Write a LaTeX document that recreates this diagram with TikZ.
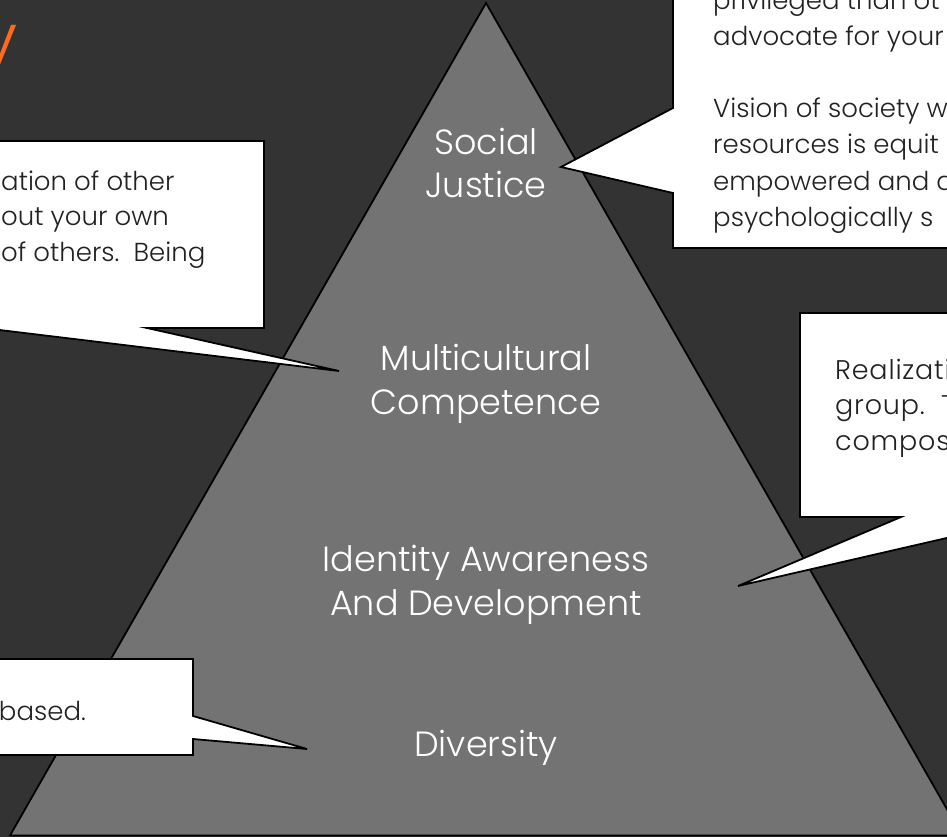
\documentclass[tikz,border=0pt]{standalone}
\usepackage{fontspec}
\IfFontExistsTF{Poppins Light}{\setmainfont{Poppins Light}}{\setmainfont{Poppins}}
\definecolor{bgdark}{HTML}{333333}
\definecolor{pyrgray}{HTML}{737373}
\definecolor{boxink}{HTML}{222222}
\definecolor{titleorange}{HTML}{FF6A1F}

\begin{document}
\begin{tikzpicture}[x=1pt,y=-1pt,
  outline/.style={draw=black, line width=1.8pt, line join=miter},
  bubble/.style={outline, fill=white},
  level/.style={text=white, font=\fontsize{35}{44}\selectfont, inner sep=0pt, anchor=base},
  note/.style={text=boxink, font=\fontsize{26}{36}\selectfont, inner sep=0pt, anchor=base west},
  widenote/.style={note, font=\fontsize{27}{36}\selectfont\addfontfeature{LetterSpace=3}},
  noteend/.style={note, anchor=base east}]
\useasboundingbox (0,0) rectangle (947,837);
\clip (0,0) rectangle (947,837);
\fill[bgdark] (0,0) rectangle (947,837);

% title fragment
\node[text=titleorange, font=\fontsize{70}{80}\selectfont, inner sep=0pt, anchor=base east] (title) at (18,64) {y};

% pyramid
\draw[outline, fill=pyrgray] (486,3) -- (962,835.5) -- (10,835.5) -- cycle;

% callout: multicultural competence
\draw[bubble] (-300,141) -- (264,141) -- (264,328) -- (147,328) -- (339,371) -- (-17,328) -- (-300,328) -- cycle;
% callout: social justice
\draw[bubble] (673,-100) -- (1100,-100) -- (1100,248) -- (673,248) -- (673,193) -- (561,167) -- (673,108) -- cycle;
% callout: identity awareness
\draw[bubble] (800,313) -- (1100,313) -- (1100,517) -- (1038,517) -- (738,586) -- (901,517) -- (800,517) -- cycle;
% callout: diversity
\draw[bubble] (-300,659) -- (193,659) -- (193,716) -- (307,749) -- (193,739) -- (193,755) -- (-300,755) -- cycle;

% pyramid levels
\node[level] (sj1) at (486,154.5) {Social};
\node[level] (sj2) at (486,197) {Justice};
\node[level] (mc1) at (486,370) {Multicultural};
\node[level] (mc2) at (486,414) {Competence};
\node[level] (ia1) at (486,571.5) {Identity Awareness};
\node[level] (ia2) at (486,615) {And Development};
\node[level] (dv1) at (486,756.5) {Diversity};

% callout texts
\node[note] (mct1) at (1,190) {ation of other};
\node[note] (mct2) at (1,225) {out your own};
\node[note] (mct3) at (1,261) {of others.\ \ Being};

\node[note] (sjt1) at (713,9.5) {privileged than ot};
\node[note] (sjt2) at (713,45.5) {advocate for your};
\node[note] (sjt3) at (713,118) {Vision of society w};
\node[note] (sjt4) at (713,154) {resources is equit};
\node[note] (sjt5) at (713,190) {empowered and a};
\node[note] (sjt6) at (713,226) {psychologically s};

\node[widenote] (iat1) at (835,379) {Realizati};
\node[widenote] (iat2) at (835,414.5) {group.\ \ T};
\node[widenote] (iat3) at (835,450) {compos};

\node[noteend] (dvt1) at (86,720) {based.};
\end{tikzpicture}
\end{document}
